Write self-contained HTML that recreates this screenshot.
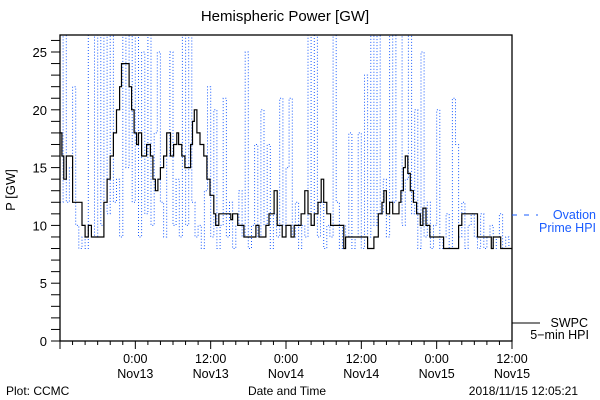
<!DOCTYPE html>
<html><head><meta charset="utf-8"><style>
body{margin:0;background:#fff;}
svg{display:block;font-family:"Liberation Sans",sans-serif;}
</style></head><body>
<svg id="chart" width="600" height="400" viewBox="0 0 600 400">
<defs><clipPath id="clip"><rect x="60" y="35" width="452" height="306"/></clipPath></defs>
<rect width="600" height="400" fill="#fff"/>
<text x="285" y="21" font-size="15" text-anchor="middle">Hemispheric Power [GW]</text>
<text transform="translate(15,190) rotate(-90)" font-size="13" text-anchor="middle">P [GW]</text>
<text x="287" y="395" font-size="12" text-anchor="middle">Date and Time</text>
<text x="6" y="395" font-size="12">Plot: CCMC</text>
<text x="578" y="395" font-size="12" text-anchor="end">2018/11/15 12:05:21</text>
<g id="axes"></g>
<g id="series" clip-path="url(#clip)"></g>
<rect x="60" y="35" width="452" height="306" fill="none" stroke="#000" stroke-width="1.3"/>
<g>
<line x1="512" y1="215" x2="538" y2="215" stroke="#1a5cff" stroke-width="1" stroke-dasharray="5 7"/>
<text x="596" y="219" font-size="12.5" fill="#1a5cff" text-anchor="end">Ovation</text>
<text x="596" y="232" font-size="12.5" fill="#1a5cff" text-anchor="end">Prime HPI</text>
<line x1="512" y1="323" x2="540" y2="323" stroke="#000" stroke-width="1"/>
<text x="588" y="327" font-size="12.5" text-anchor="end">SWPC</text>
<text x="589" y="339" font-size="12.5" text-anchor="end">5−min HPI</text>
</g>
</svg>
<script>
const yTicks=[0,5,10,15,20,25];
const xTickHours=[12,24,36,48,60,72];
const xTickTime=["0:00","12:00","0:00","12:00","0:00","12:00"];
const xTickDate=["Nov13","Nov13","Nov14","Nov14","Nov15","Nov15"];
const blueStep=0.5;
const blueV=[12,27,12,15,22,10,8,9,8,27,27,9,27,10,27,11,27,12,14,9,27,15,27,12,27,9,25,11,27,10,18,25,12,9,16,25,10,14,9,27,10,27,12,9,10,8,13,22,9,20,8,10,21,9,12,8,10,13,9,25,8,10,17,9,20,10,17,8,11,9,21,10,15,21,9,12,8,10,9,27,10,27,9,12,8,10,9,27,12,8,10,9,18,8,9,18,8,23,9,27,10,27,11,14,9,27,12,27,27,10,14,27,11,20,8,25,9,12,8,10,20,8,9,11,8,21,17,9,12,8,10,11,9,8,11,8,9,10,8,9,11,8,9,8,8];
const blackT=[0,0.3,0.6,1,1.6,2,3,3.5,4,4.5,5,6.6,7,7.5,8,8.5,9,9.5,9.8,10.7,11,11.4,11.8,12.2,12.5,13,13.8,14.4,14.8,15.2,15.6,16,16.5,17,17.6,18.1,18.6,18.9,19.4,19.9,20.5,20.8,21.1,21.4,21.8,22.3,22.9,23.4,23.9,24.5,24.8,25.3,26.9,27.2,27.5,28.3,29.3,31.2,31.7,32.8,33.3,34.1,34.6,35.4,36,36.8,37.3,38.4,39,39.5,40,40.5,41.1,41.6,42,42.5,43.1,44.7,45.2,45.5,48.5,49,49.8,50,50.7,51.3,51.6,52,52.5,53,53.9,54,54.3,54.7,55,55.4,55.8,56.3,56.8,57.4,57.8,58.3,58.9,60.9,61.1,63,63.5,64,66.3,66.5,68.3,68.7,69,70.2,72];
const blackV=[18,16,14,16,16,12,12,10,9,10,9,9,12,14,16,18,20,22,24,24,22,20,18,17,18,16,17,16,14,13,14,15,16,18,16,17,18,17,16,15,15,17,19,20,18,17,16,14,12.6,11,10,11,11,10.5,11,10,9,10,9,10,11,13,10,9,10,9,10,11,13,11,10,11,12,14,12,11,10,10,8,9,9,8,8,9,11,12,13,11,12,11,11,12,13,15,16,14.5,13,12,11,10,11.5,10,9,9,8,8,10,11,11,9,9,8,9,8,8];
const X=h=>60+h*(452/72);
const Y=v=>341-v*(289/25);
const NS="http://www.w3.org/2000/svg";
const axes=document.getElementById('axes'), series=document.getElementById('series');
function mk(tag,attrs,parent){const e=document.createElementNS(NS,tag);for(const k in attrs)e.setAttribute(k,attrs[k]);parent.appendChild(e);return e;}
for(let v=0;v<=26;v++){
  const t=mk('line',{x1:51,x2:60,y1:Y(v),y2:Y(v),stroke:'#000','stroke-width':1},axes);
  
  
}
yTicks.forEach(v=>{
  const t=mk('text',{x:47,y:Y(v)+5,'font-size':13,'text-anchor':'end'},axes);
  t.textContent=v;
  
  
});
for(let h=0;h<=72;h+=2){
  const major=h%12===0;
  const t=mk('line',{x1:X(h),x2:X(h),y1:341,y2:major?349:345,stroke:'#000','stroke-width':1},axes);
  
  
}
xTickHours.forEach((h,i)=>{
  const a=mk('text',{x:X(h),y:363,'font-size':12.5,'text-anchor':'middle'},axes);
  a.textContent=xTickTime[i];
  
  
  const b=mk('text',{x:X(h),y:378,'font-size':12.5,'text-anchor':'middle'},axes);
  b.textContent=xTickDate[i];
  
  
});
let bpts=[];
blueV.forEach((v,i)=>{
  const x=X(i*blueStep).toFixed(1);
  if(i>0)bpts.push(x+','+Y(blueV[i-1]).toFixed(1));
  bpts.push(x+','+Y(v).toFixed(1));
});
const bl=mk('polyline',{points:bpts.join(' '),fill:'none',stroke:'#1a5cff','stroke-width':1,'stroke-dasharray':'1 2'},series);


let pts=[];
blackT.forEach((t,i)=>{
  if(i>0)pts.push(X(t).toFixed(1)+','+Y(blackV[i-1]).toFixed(1));
  pts.push(X(t).toFixed(1)+','+Y(blackV[i]).toFixed(1));
});
const kl=mk('polyline',{points:pts.join(' '),fill:'none',stroke:'#000','stroke-width':1.2},series);


</script>
</body></html>
